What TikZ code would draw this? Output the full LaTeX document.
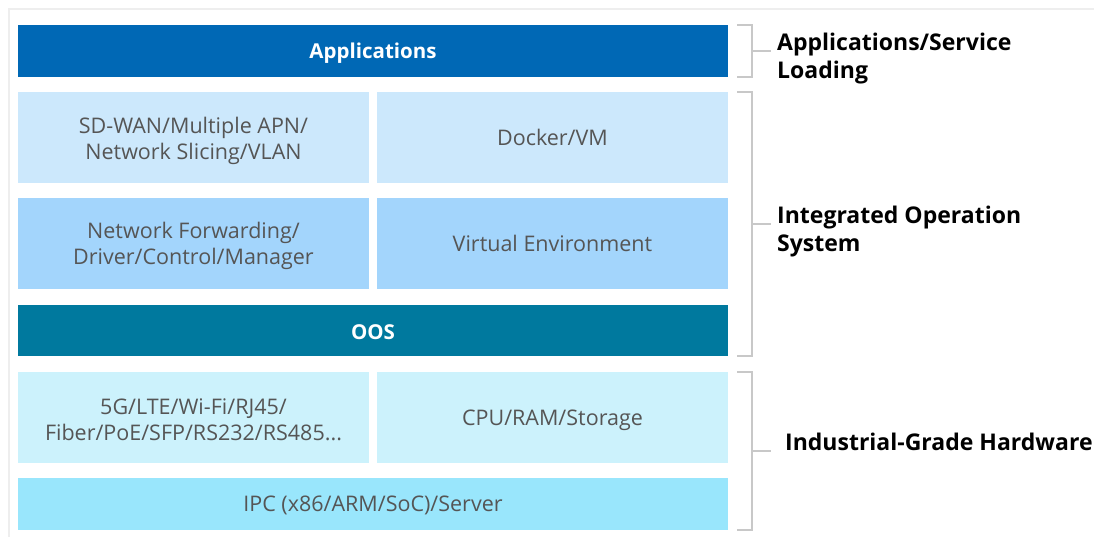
\documentclass[tikz,border=0pt]{standalone}
\usepackage{fontspec}
\setmainfont{Open Sans}
\definecolor{appblue}{HTML}{0068B5}
\definecolor{row2}{HTML}{CCE8FC}
\definecolor{row3}{HTML}{A3D5FC}
\definecolor{oos}{HTML}{00799E}
\definecolor{row5}{HTML}{CCF2FC}
\definecolor{ipc}{HTML}{99E6FC}
\definecolor{txt}{HTML}{555555}
\definecolor{brk}{HTML}{C8C8C8}
\definecolor{frame}{HTML}{EEEEEE}
\tikzset{
  blk/.style={minimum height=51pt, inner sep=0pt, align=center, font=\fontsize{21.5}{26}\selectfont, text=txt},
  dark/.style={blk, text=white, font=\fontsize{20.5}{24}\selectfont\bfseries},
  lbl/.style={anchor=west, align=left, font=\fontsize{23}{28}\selectfont\bfseries, text=black, inner sep=0pt},
  brline/.style={draw=brk, line width=1.2pt}
}
\begin{document}
\begin{tikzpicture}[x=1pt,y=-1pt]
\useasboundingbox (0,0) rectangle (1094,537);
\draw[frame, line width=1.5pt] (9,537) -- (9,9) -- (1094,9);
% blocks
\fill[appblue] (18,25) rectangle (728,77);
\node[dark] (app) at (373,53) {Applications};
\fill[row2] (18,92) rectangle (369,183);
\node[blk] (sdwan) at (193.5,140.5) {SD-WAN/Multiple APN/\\Network Slicing/VLAN};
\fill[row2] (377,92) rectangle (728,183);
\node[blk] (docker) at (552.5,137.5) {Docker/VM};
\fill[row3] (18,198) rectangle (369,289);
\node[blk] (netfw) at (193.5,245.5) {Network Forwarding/\\Driver/Control/Manager};
\fill[row3] (377,198) rectangle (728,289);
\node[blk] (venv) at (552.5,243.5) {Virtual Environment};
\fill[oos] (18,305) rectangle (728,356);
\node[dark] (oosn) at (373,332.5) {OOS};
\fill[row5] (18,372) rectangle (369,463);
\node[blk] (g5) at (193.5,420) {5G/LTE/Wi-Fi/RJ45/\\Fiber/PoE/SFP/RS232/RS485...};
\fill[row5] (377,372) rectangle (728,463);
\node[blk] (cpu) at (552.5,420) {CPU/RAM/Storage};
\fill[ipc] (18,478) rectangle (728,530);
\node[blk] (ipcn) at (373,505) {IPC (x86/ARM/SoC)/Server};
% brackets
\draw[brline] (737,25) -- (752,25) -- (752,77) -- (737,77);
\draw[brline] (752,51) -- (771,51);
\node[lbl] (l1) at (777,59) {Applications/Service\\Loading};
\draw[brline] (737,92) -- (752,92) -- (752,356) -- (737,356);
\draw[brline] (752,224) -- (771,224);
\node[lbl] (l2) at (777,232) {Integrated Operation\\System};
\draw[brline] (737,372) -- (752,372) -- (752,530) -- (737,530);
\draw[brline] (752,451) -- (771,451);
\node[lbl] (l3) at (785,442) {Industrial-Grade Hardware};
\end{tikzpicture}
\end{document}
